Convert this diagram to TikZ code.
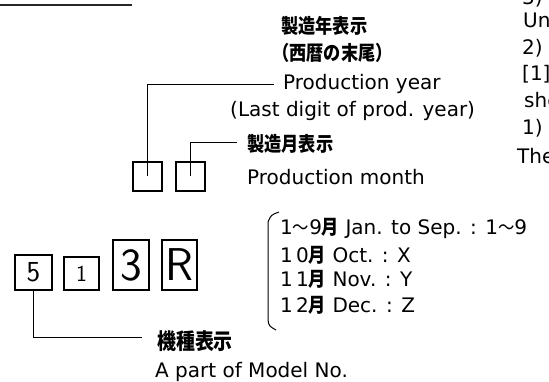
\documentclass[tikz,border=0pt]{standalone}
\usepackage{fontspec}
\setmainfont{DejaVu Sans}
\newfontfamily\jpfont{Noto Sans CJK JP}[FakeStretch=0.86]
\newcommand\jtext[2][20]{{\jpfont\bfseries\fontsize{#1}{#1}\selectfont #2}}
\newcommand\jwave{{\jpfont\fontsize{19}{19}\selectfont ～}}
\begin{document}
\begin{tikzpicture}[x=1pt,y=-1pt,
  lbl/.style={anchor=base west, inner sep=0pt, font=\fontsize{20}{24}\selectfont},
  jlbl/.style={anchor=base west, inner sep=0pt, font=\jpfont\bfseries\fontsize{20}{22}\selectfont},
  digitbox/.style={draw, line width=1.1pt, inner sep=0pt, font=\sffamily},
  conn/.style={line width=1pt}]
\useasboundingbox (0,0) rectangle (549,382);
% top rule
\coordinate (r1) at (0,5);
\coordinate (r2) at (132,5);
\draw[line width=1.6pt, black!85] (r1) -- (r2);
% upper boxes
\node[digitbox, minimum width=29pt, minimum height=29pt] (yb) at (147.5,176.5) {};
\node[digitbox, minimum width=29pt, minimum height=29pt] (mb) at (190.5,176.5) {};
\coordinate (yend) at (274,85);
\coordinate (mend) at (237,143);
\draw[conn] (yb.center) |- (yend);
\draw[conn] (mb.center) |- (mend);
% upper labels
\node[jlbl] (t1) at (281,34) {製造年表示};
\node[jlbl] (t2) at (272,61) {（西暦の末尾）};
\node[lbl] (t3) at (283,90) {Production year};
\node[lbl] (t4) at (230,117) {(Last digit of prod. year)};
\node[jlbl] (t5) at (247,152) {製造月表示};
\node[lbl] (t6) at (247,185) {Production month};
% lower boxes
\node[digitbox, minimum width=37pt, minimum height=35pt, font=\sffamily\fontsize{29}{29}\selectfont] (b5) at (33.5,272.5) {5};
\node[digitbox, minimum width=35pt, minimum height=33pt, font=\sffamily\fontsize{23}{23}\selectfont] (b1) at (81.5,273.5) {1};
\node[digitbox, minimum width=36pt, minimum height=50pt, font=\sffamily\fontsize{46}{46}\selectfont] (b3) at (131,265) {3};
\node[digitbox, minimum width=35pt, minimum height=50pt, font=\sffamily\fontsize{46}{46}\selectfont] (bR) at (179.5,265) {R};
\coordinate (kend) at (142,337);
\draw[conn] (b5.south) |- (kend);
\node[jlbl, font=\jpfont\bfseries\fontsize{22}{24}\selectfont] (t7) at (157,349) {機種表示};
\node[lbl] (t8) at (155,377) {A part of Model No.};
% month bracket
\coordinate (k1) at (279,212);
\coordinate (k2) at (268,222);
\coordinate (k3) at (268,320);
\coordinate (k4) at (276,330);
\draw[conn] (k1) .. controls (271,215) .. (k2) -- (k3) .. controls (269,326) .. (k4);
\node[lbl] (m1) at (280,235) {1\jwave 9\jtext{月} Jan. to Sep. : 1\jwave 9};
\node[lbl] (m2) at (280,262) {1\,0\jtext{月} Oct. : X};
\node[lbl] (m3) at (280,287) {1\,1\jtext{月} Nov. : Y};
\node[lbl] (m4) at (280,312) {1\,2\jtext{月} Dec. : Z};
% cut-off right column
\node[lbl] (c0) at (522,5) {3)};
\node[lbl] (c1) at (523,28) {Un};
\node[lbl] (c2) at (522,55) {2)};
\node[lbl] (c3) at (522,81) {[1]};
\node[lbl] (c4) at (524,108) {she};
\node[lbl] (c5) at (522,135) {1)};
\node[lbl] (c6) at (517,164) {The};
\end{tikzpicture}
\end{document}
